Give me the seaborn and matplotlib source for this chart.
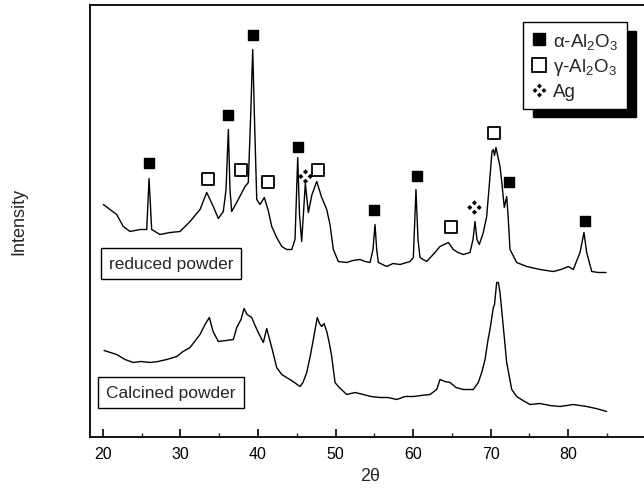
import numpy as np
import pandas as pd
import seaborn as sns
import matplotlib
matplotlib.use("Agg")
import matplotlib.pyplot as plt
from matplotlib.path import Path
from matplotlib.lines import Line2D
from matplotlib.ticker import MultipleLocator

# ---------------- data ----------------
reduced_2theta = [20.08, 20.94, 21.80, 22.65, 23.52, 24.81, 25.67, 25.97, 26.31, 27.38,
                  28.67, 29.96, 31.25, 32.54, 33.40, 34.25, 34.90, 35.54, 35.89, 36.19,
                  36.40, 36.62, 37.47, 38.34, 38.76, 39.05, 39.33, 39.56, 39.85, 40.27,
                  40.82, 41.30, 41.78, 42.42, 43.07, 43.71, 44.36, 44.78, 45.13, 45.36,
                  45.64, 46.11, 46.50, 46.97, 47.58, 48.22, 48.87, 49.29, 49.72, 50.36,
                  51.44, 52.26, 53.16, 53.80, 54.45, 54.83, 55.09, 55.31, 55.52, 56.60,
                  57.41, 58.31, 59.60, 60.03, 60.37, 60.63, 60.89, 61.75, 62.82, 63.47,
                  64.54, 65.18, 65.79, 66.47, 67.33, 67.72, 67.98, 68.23, 68.53, 69.05,
                  69.48, 69.91, 70.17, 70.34, 70.49, 70.68, 71.20, 71.46, 71.75, 72.06,
                  72.23, 72.49, 73.35, 74.64, 76.35, 78.07, 79.06, 80.00, 80.64, 81.51,
                  82.02, 82.37, 83.02, 83.87, 84.86]
reduced_int = [232, 227, 222, 210, 205, 207, 207, 258, 207, 202,
               204, 205, 215, 227, 244, 230, 218, 225, 247, 307,
               247, 225, 237, 250, 254, 317, 387, 317, 237, 232,
               239, 227, 210, 199, 190, 187, 187, 197, 279, 222,
               195, 253, 224, 242, 255, 239, 227, 212, 187, 175,
               174, 176, 177, 175, 174, 187, 212, 187, 174, 170,
               173, 172, 175, 179, 247, 197, 179, 175, 184, 190,
               194, 187, 184, 182, 184, 197, 215, 197, 192, 204,
               220, 260, 285, 287, 281, 289, 270, 252, 229, 240,
               222, 187, 174, 170, 167, 165, 167, 170, 167, 184,
               204, 184, 165, 164, 164]

calcined_2theta = [20.17, 21.80, 22.87, 23.94, 24.94, 26.10, 27.13, 28.25, 29.54, 30.35,
                   31.25, 32.54, 33.18, 33.74, 34.22, 34.90, 35.89, 36.83, 37.27, 37.82,
                   38.21, 38.60, 39.20, 39.63, 40.05, 40.70, 41.13, 41.78, 42.42, 43.07,
                   43.71, 44.52, 45.43, 45.81, 46.29, 46.71, 47.14, 47.65, 47.94, 48.22,
                   48.52, 48.87, 49.16, 49.51, 49.94, 50.36, 51.44, 52.51, 53.58, 54.57,
                   55.73, 56.77, 57.89, 58.96, 60.03, 61.02, 62.18, 63.04, 63.47, 64.11,
                   64.76, 65.53, 66.47, 67.76, 68.40, 68.88, 69.27, 69.66, 69.91, 70.34,
                   70.49, 70.77, 70.98, 71.20, 71.62, 72.06, 72.71, 73.35, 74.16, 75.06,
                   76.35, 77.64, 78.93, 80.64, 82.37, 83.57, 84.95]
calcined_int = [86, 82, 77, 74, 75, 74, 75, 77, 80, 85,
                89, 102, 112, 119, 105, 95, 96, 97, 109, 117,
                128, 122, 119, 111, 104, 94, 108, 89, 69, 62,
                59, 55, 50, 54, 64, 79, 97, 119, 113, 110,
                113, 105, 95, 80, 54, 50, 42, 44, 42, 40,
                39, 39, 37, 40, 40, 41, 42, 47, 57, 55,
                54, 49, 47, 47, 54, 65, 77, 97, 107, 129,
                132, 154, 154, 144, 110, 74, 47, 40, 36, 32,
                33, 31, 30, 32, 30, 28, 25]

alpha_2theta = [26.01, 36.11, 39.33, 45.13, 55.00, 60.46, 72.36, 82.16]
alpha_int = [274, 322, 402, 290, 227, 261, 255, 216]
gamma_2theta = [33.61, 37.78, 41.34, 47.71, 64.82, 70.46]
gamma_int = [258, 267, 255, 267, 210, 304]
ag_2theta = [46.07, 67.85]
ag_int = [261, 230]

x_ticks = [20, 30, 40, 50, 60, 70, 80]
legend_labels = ["α-Al$_2$O$_3$", "γ-Al$_2$O$_3$", "Ag"]
trace_labels = ["reduced powder", "Calcined powder"]

# ---------------- style ----------------
sns.set_theme(style="ticks")
plt.rcParams["font.family"] = ["Liberation Sans", "DejaVu Sans"]
plt.rcParams["mathtext.fontset"] = "custom"
plt.rcParams["mathtext.rm"] = "Liberation Sans"
plt.rcParams["mathtext.it"] = "Liberation Sans"
plt.rcParams["mathtext.sf"] = "Liberation Sans"
plt.rcParams["mathtext.default"] = "regular"

fig = plt.figure(figsize=(6.44, 4.89), dpi=100)
ax = fig.add_axes([90 / 644, 1 - 437.5 / 489, 560 / 644, 431.5 / 489])

df_r = pd.DataFrame({"x": reduced_2theta, "y": reduced_int})
df_c = pd.DataFrame({"x": calcined_2theta, "y": calcined_int})
sns.lineplot(data=df_r, x="x", y="y", ax=ax, color="black", lw=1.0, sort=False)
sns.lineplot(data=df_c, x="x", y="y", ax=ax, color="black", lw=1.0, sort=False)

# Ag marker: four small diamonds arranged in a cross
h = 0.33
verts, codes = [], []
for cx, cy in [(0, 0.6), (0.6, 0), (0, -0.6), (-0.6, 0)]:
    verts += [(cx, cy + h), (cx + h, cy), (cx, cy - h), (cx - h, cy), (cx, cy + h)]
    codes += [Path.MOVETO, Path.LINETO, Path.LINETO, Path.LINETO, Path.CLOSEPOLY]
ag_marker = Path(verts, codes)

ax.scatter(alpha_2theta, alpha_int, marker="s", s=60, c="black", edgecolors="black", zorder=3)
ax.scatter(gamma_2theta, gamma_int, marker="s", s=70, facecolors="white", edgecolors="black",
           linewidths=1.3, zorder=3)
ax.scatter(ag_2theta, ag_int, marker=ag_marker, s=110, c="black", linewidths=0, zorder=3)

ax.set_xlim(18.36, 90.53)
ax.set_ylim(0, 431.5)
ax.set_xticks(x_ticks)
ax.xaxis.set_minor_locator(MultipleLocator(5))
ax.set_yticks([])
ax.tick_params(axis="x", which="major", direction="in", length=6, width=1.2, labelsize=11.5,
               pad=7, top=False, colors="black")
ax.tick_params(axis="x", which="minor", direction="in", length=3, width=1.0, top=False)
for s in ["left", "bottom", "top"]:
    ax.spines[s].set_linewidth(1.3)
    ax.spines[s].set_color("black")
ax.spines["right"].set_visible(False)

ax.set_xlabel("2θ", fontsize=13, labelpad=4)
ax.set_ylabel("Intensity", fontsize=13)
ax.yaxis.set_label_coords(-0.112, 0.5)

box = dict(boxstyle="square,pad=0.45", facecolor="white", edgecolor="black", lw=1.0)
ax.text(28.8, 173, trace_labels[0], fontsize=12.5, ha="center", va="center", bbox=box)
ax.text(28.8, 44, trace_labels[1], fontsize=12.5, ha="center", va="center", bbox=box)

handles = [
    Line2D([], [], ls="none", marker="s", ms=8.5, mfc="black", mec="black"),
    Line2D([], [], ls="none", marker="s", ms=9.5, mfc="white", mec="black", mew=1.3),
    Line2D([], [], ls="none", marker=ag_marker, ms=10, mfc="black", mec="black", mew=0),
]
leg = ax.legend(handles, legend_labels, loc="upper right",
                bbox_to_anchor=(626.7 / 644, 1 - 23.3 / 489), bbox_transform=fig.transFigure,
                borderaxespad=0, fontsize=13.5, frameon=True, fancybox=False,
                handlelength=0.8, handletextpad=0.35, borderpad=0.45, labelspacing=0.3,
                shadow={"ox": 7, "oy": -6, "color": "black", "alpha": 1})
leg.get_frame().set_edgecolor("black")
leg.get_frame().set_linewidth(1.0)
leg.get_frame().set_alpha(1)

fig.savefig("out.png", dpi=100)
